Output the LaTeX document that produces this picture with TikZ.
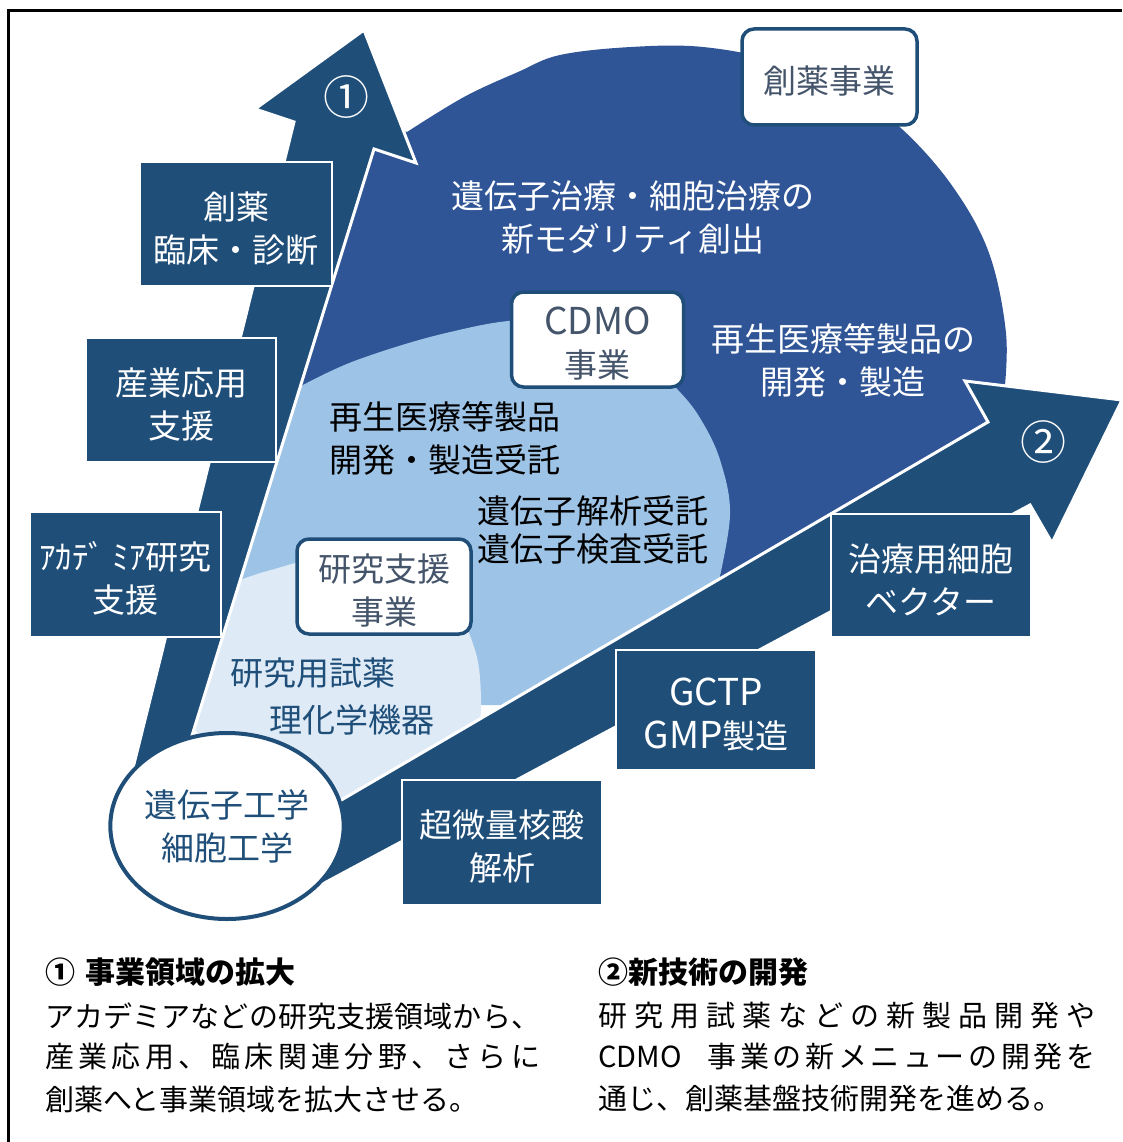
\documentclass[tikz,border=0pt]{standalone}
\usepackage{fontspec}
\setmainfont{Noto Sans CJK JP}
\usetikzlibrary{shapes.geometric}

\definecolor{navy}{HTML}{1F4E79}
\definecolor{royal}{HTML}{2F5597}
\definecolor{sky}{HTML}{9DC3E6}
\definecolor{pale}{HTML}{DEEBF7}
\definecolor{slate}{HTML}{44546A}

% spread the characters of a line over a given width
\def\spreadchars#1#2\relax{#1\spreadrest#2\relax}
\def\spreadrest#1{\ifx\relax#1\else\hfil#1\expandafter\spreadrest\fi}
\newcommand\spreadline[2]{\makebox[#1][s]{\spreadchars#2\relax}}

\begin{document}
\begin{tikzpicture}[x=1pt, y=-1pt,
  bigtext/.style = {font=\fontsize{33}{43}\selectfont},
  navybox/.style = {bigtext, rectangle, fill=navy, draw=white, line width=1.2pt, text=white, align=center, inner sep=0pt, text height=79pt},
  whitebox/.style = {bigtext, rectangle, rounded corners=12pt, fill=white, draw=navy, line width=3.5pt, text=slate, align=center, inner sep=0pt, text height=79pt},
  areatext/.style = {bigtext, inner sep=0pt},
  num/.style = {text=white, inner sep=0pt, font=\fontsize{46}{46}\selectfont},
  note/.style = {anchor=west, inner sep=0pt, font=\fontsize{29}{29}\selectfont}]

\useasboundingbox (0,0) rectangle (1122,1142);

% Frame
\draw[line width=3pt] (1122,10.5) -- (8.5,10.5) -- (8.5,1142);

% Areas
\fill[royal] (380,125) -- plot[smooth, tension=0.6] coordinates {(407,132) (464,97) (518,72) (560,55) (631,47) (703,47) (780,62) (850,92) (903,130) (953,187) (989,253) (1006,333) (1004,395)} -- (990,450) -- (720,610) -- (600,500) -- (290,420) -- (340,150) -- cycle;
\fill[sky] (285,400) -- plot[smooth, tension=0.6] coordinates {(303,385) (357,360) (446,333) (530,320) (620,335) (678,390) (703,423) (721,463) (730,515) (718,585)} -- (722,640) -- (540,705) -- (470,705) -- (300,620) -- (225,575) -- cycle;
\fill[pale] (230,590) -- plot[smooth, tension=0.6] coordinates {(240,580) (271,570) (320,560) (400,570) (450,600) (475,650) (481,697) (479,735)} -- (490,760) -- (300,835) -- (185,720) -- cycle;

% Arrows
\filldraw[fill=navy, draw=white, line width=3pt] (364,30) -- (416,163) -- (374,149) -- (172,800) -- (125,800) -- (294,122) -- (255,109) -- cycle;
\filldraw[fill=navy, draw=white, line width=3pt] (1122,400) -- (1052,543) -- (1030,505) -- (302,895) -- (240,860) -- (290,830) -- (988,422) -- (965,381) -- cycle;
\node[num] (one) at (346,97) {①};
\node[num] (two) at (1043,442) {②};

% Base
\node[ellipse, draw=navy, line width=4pt, fill=white, minimum width=226pt, minimum height=186pt, inner sep=0pt, bigtext, text=navy, align=center] (gene) at (227,826) {遺伝子工学\\細胞工学};

% Steps along arrow 1
\node[navybox, minimum width=192pt, minimum height=124pt] (drug) at (236,224) {創薬\\臨床・診断};
\node[navybox, minimum width=190pt, minimum height=124pt] (industry) at (181,400) {産業応用\\支援};
\node[navybox, minimum width=191pt, minimum height=125pt] (academia) at (125.5,574.5) {ｱｶﾃﾞ ﾐｱ研究\\支援};

% Steps along arrow 2
\node[navybox, minimum width=200pt, minimum height=125pt] (trace) at (502,842.5) {超微量核酸\\解析};
\node[navybox, minimum width=200pt, minimum height=120pt] (gctp) at (716,710) {{\fontsize{37}{43}\selectfont GCTP}\\{\fontsize{37}{43}\selectfont GMP}製造};
\node[navybox, minimum width=200pt, minimum height=123pt] (vector) at (931,575.5) {治療用細胞\\ベクター};

% Business units
\node[whitebox, minimum width=175pt, minimum height=96pt, text height=35pt] (drugbiz) at (829.5,77) {創薬事業};
\node[whitebox, minimum width=172pt, minimum height=95pt] (cdmo) at (597.5,339.5) {{\fontsize{37}{43}\selectfont CDMO}\\事業};
\node[whitebox, minimum width=174pt, minimum height=95pt] (support) at (384,586.5) {研究支援\\事業};

% Area texts
\node[areatext, text=white, align=center] (modality) at (633,217.5) {遺伝子治療・細胞治療の\\新モダリティ創出};
\node[areatext, text=white, align=center] (regen) at (843,360.5) {再生医療等製品の\\開発・製造};
\node[areatext, anchor=west, align=left] (contract) at (329,438.5) {再生医療等製品\\開発・製造受託};
\node[areatext, anchor=west, align=left, font=\fontsize{33}{38}\selectfont] (genetest) at (477,530) {遺伝子解析受託\\遺伝子検査受託};
\node[areatext, anchor=west, text=navy] (reagent) at (230,673) {研究用試薬};
\node[areatext, anchor=west, text=navy] (instrument) at (269,720) {理化学機器};

% Notes
\node[note, font=\fontsize{30}{30}\selectfont\bfseries] (headleft) at (45,972) {①\hspace{10pt}事業領域の拡大};
\node[note] (left1) at (45,1016) {\spreadline{495pt}{アカデミアなどの研究支援領域から、}};
\node[note] (left2) at (45,1057) {\spreadline{495pt}{産業応用、臨床関連分野、さらに}};
\node[note] (left3) at (45,1099) {創薬へと事業領域を拡大させる。};
\node[note, font=\fontsize{30}{30}\selectfont\bfseries] (headright) at (598,972) {②新技術の開発};
\node[note] (right1) at (598,1016) {\spreadline{497pt}{研究用試薬などの新製品開発や}};
\node[note] (right2) at (598,1057) {\makebox[497pt][s]{CDMO\hspace{26pt}\spreadchars 事業の新メニューの開発を\relax}};
\node[note] (right3) at (598,1099) {通じ、創薬基盤技術開発を進める。};

\end{tikzpicture}
\end{document}
